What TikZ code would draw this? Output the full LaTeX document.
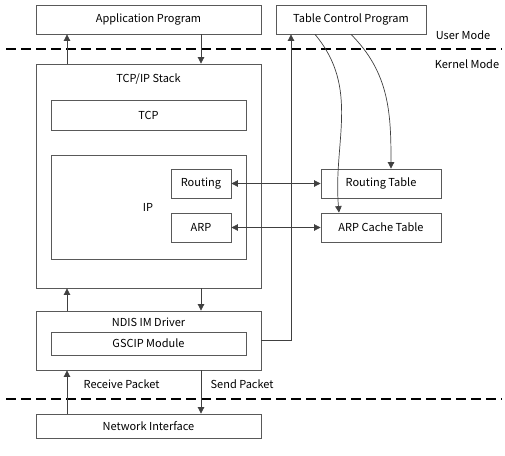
\documentclass[tikz,border=0pt]{standalone}
\usepackage{fontspec}
\setmainfont{Noto Sans CJK JP}
\usepackage{tikz}
\usetikzlibrary{positioning,arrows.meta,calc}
\tikzset{
  >={Triangle[length=6.5pt,width=6.5pt]},
}

\begin{document}
\begin{tikzpicture}[
  x=1pt,y=1pt,
  font=\fontsize{11}{13}\selectfont,
  box/.style={draw=black!65, line width=0.8pt, inner sep=0pt, minimum height=29pt},
  wide/.style={box, minimum width=225pt},
  inner/.style={box, minimum width=195pt},
  small/.style={box, minimum width=60pt},
  tbl/.style={box, minimum width=120pt},
  modeline/.style={line width=2.2pt, dash pattern=on 10pt off 5pt},
  link/.style={draw=black!75, line width=0.7pt}
]
\useasboundingbox (0,0) rectangle (505,-455);

% user mode
\node[wide] (app) at (148.5,-19.5) {Application Program};
\node[box, minimum width=150pt] (ctrl) at (351,-19.5) {Table Control Program};

% kernel mode
\node[wide, minimum height=224pt] (stack) at (148.5,-176) {};
\node[below=7pt of stack.north] {TCP/IP Stack};
\node[inner, minimum height=30pt] (tcp) at (148.5,-115) {TCP};
\node[inner, minimum height=104pt] (ip) at (148.5,-207) {};
\node at (148,-207) {IP};
\node[small] (routing) at (201,-183.5) {Routing};
\node[small] (arp) at (201,-227.5) {ARP};
\node[tbl] (rtable) at (381,-183.5) {Routing Table};
\node[tbl] (atable) at (381,-227.5) {ARP Cache Table};

\node[wide, minimum height=59pt] (ndis) at (148.5,-340.5) {};
\node[below=4pt of ndis.north] {NDIS IM Driver};
\node[inner, minimum height=23pt] (gscip) at (148.5,-343.5) {GSCIP Module};
\node[wide, minimum height=24pt] (nic) at (148.5,-426) {Network Interface};

\draw[modeline] (6,-49) -- (502,-49);
\draw[modeline] (6,-399) -- (502,-399);
\node at (463,-35) {User Mode};
\node at (467,-64) {Kernel Mode};

% data paths
\draw[link,->] (stack.north -| 67,0) -- (app.south -| 67,0);
\draw[link,->] (app.south -| 201,0) -- (stack.north -| 201,0);
\draw[link,->] (ndis.north -| 67,0) -- (stack.south -| 67,0);
\draw[link,->] (stack.south -| 201,0) -- (ndis.north -| 201,0);
\draw[link,->] (nic.north -| 67,0) -- (ndis.south -| 67,0)
  node[pos=0.68, right=13pt] {Receive Packet};
\draw[link,->] (ndis.south -| 201,0) -- (nic.north -| 201,0)
  node[pos=0.32, right=6pt] {Send Packet};

\draw[link,<->] (routing) -- (rtable);
\draw[link,<->] (arp) -- (atable);

% table control
\draw[link,->] (ndis.east) -| ([xshift=-60pt]ctrl.south);
\draw[link,->] ([xshift=-36pt]ctrl.south) to[out=-50,in=95] ([xshift=-42pt]atable.north);
\draw[link,->] ([xshift=0pt]ctrl.south) to[out=-45,in=90] ([xshift=10pt]rtable.north);
\end{tikzpicture}
\end{document}
